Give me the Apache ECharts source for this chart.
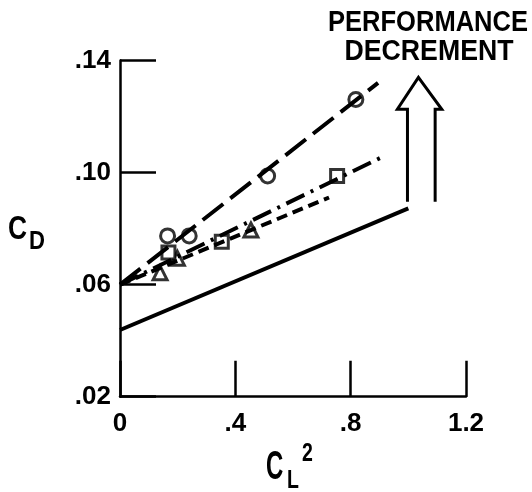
<!DOCTYPE html>
<html>
<head>
<meta charset="utf-8">
<script src="https://cdn.jsdelivr.net/npm/echarts@6/dist/echarts.min.js"></script>
<style>
  html, body { margin: 0; padding: 0; background: #fff; }
  #chart { width: 532px; height: 492px; }
</style>
</head>
<body>
<div id="chart"></div>
<script>
// tick labels
var xTicks = ['0', '.4', '.8', '1.2'];
var yTicks = ['.02', '.06', '.10', '.14'];

// circles + long dash fit
var circleX = [0.165, 0.240, 0.512, 0.818];
var circleY = [0.0774, 0.0774, 0.0988, 0.1261];
var circleFitX = [0, 0.895];
var circleFitY = [0.060, 0.132];

// squares + dash-dot fit
var squareX = [0.168, 0.353, 0.753];
var squareY = [0.0715, 0.0753, 0.0988];
var squareFitX = [0, 0.902];
var squareFitY = [0.060, 0.1052];

// triangles + short dash fit
var triX = [0.139, 0.199, 0.454];
var triY = [0.0642, 0.0694, 0.0795];
var triFitX = [0, 0.725];
var triFitY = [0.060, 0.0911];

// solid baseline
var baseX = [0, 1.0];
var baseY = [0.0438, 0.0872];

// hollow "performance decrement" arrow outline
var arrowX = [0.997, 0.997, 0.962, 1.035, 1.116, 1.093, 1.093];
var arrowY = [0.0896, 0.1226, 0.1226, 0.134, 0.1226, 0.1226, 0.0896];

function pairs(xs, ys) {
  return xs.map(function (x, i) { return [x, ys[i]]; });
}

var FONT = 'Liberation Sans';

// condensed-looking bold text (no narrow font installed, so squeeze it)
function label(txt, x, y, size, sx, align) {
  return {
    type: 'text', x: x, y: y, scaleX: sx, silent: true,
    style: {
      text: txt, fill: '#000', font: 'bold ' + size + 'px "' + FONT + '"',
      align: align || 'left', verticalAlign: 'top'
    }
  };
}

var chart = echarts.init(document.getElementById('chart'), null, { renderer: 'canvas' });

var markerStyle = { color: '#fff', borderColor: '#000', borderWidth: 3 };

chart.setOption({
  animation: false,
  backgroundColor: '#fff',
  grid: { left: 120, top: 60.5, width: 346, height: 336.2, outerBoundsMode: 'none' },
  xAxis: {
    type: 'value',
    min: 0, max: 1.2, interval: 0.4,
    splitLine: { show: false },
    axisLine: { lineStyle: { color: '#000', width: 2.5 } },
    axisTick: { inside: true, length: 36, lineStyle: { color: '#000', width: 2.5 } },
    axisLabel: {
      margin: 14, color: '#000', fontSize: 26, fontWeight: 'bold', fontFamily: FONT,
      formatter: function (v) { return xTicks[Math.round(v / 0.4)]; }
    }
  },
  yAxis: {
    type: 'value',
    min: 0.02, max: 0.14, interval: 0.04,
    splitLine: { show: false },
    axisLine: { lineStyle: { color: '#000', width: 2.5 } },
    axisTick: { inside: true, length: 36, lineStyle: { color: '#000', width: 2.5 } },
    axisLabel: {
      margin: 9, color: '#000', fontSize: 26, fontWeight: 'bold', fontFamily: FONT,
      formatter: function (v) { return yTicks[Math.round((v - 0.02) / 0.04)]; }
    }
  },
  graphic: [
    label('PERFORMANCE', 428, 8, 29, 0.88, 'center'),
    label('DECREMENT', 429, 37, 29, 0.92, 'center'),
    // C_D
    label('C', 8, 213, 33, 0.8),
    label('D', 29, 229, 26, 0.85),
    // C_L squared
    label('C', 266, 448, 40, 0.6),
    label('L', 287, 468, 26, 0.75),
    label('2', 302, 441, 26, 0.75)
  ],
  series: [
    {
      type: 'line', data: pairs(baseX, baseY), showSymbol: false, silent: true,
      lineStyle: { color: '#000', width: 4 }
    },
    {
      type: 'line', data: pairs(triFitX, triFitY), showSymbol: false, silent: true,
      lineStyle: { color: '#000', width: 4, type: [11, 6] }
    },
    {
      type: 'line', data: pairs(squareFitX, squareFitY), showSymbol: false, silent: true,
      lineStyle: { color: '#000', width: 4, type: [20, 7, 3, 7] }
    },
    {
      type: 'line', data: pairs(circleFitX, circleFitY), showSymbol: false, silent: true,
      lineStyle: { color: '#000', width: 4, type: [26, 9] }
    },
    {
      type: 'line', data: pairs(arrowX, arrowY), showSymbol: false, silent: true,
      lineStyle: { color: '#000', width: 3, join: 'miter' }
    },
    {
      type: 'scatter', data: pairs(triX, triY), symbol: 'triangle', symbolSize: 14,
      itemStyle: markerStyle
    },
    {
      type: 'scatter', data: pairs(squareX, squareY), symbol: 'rect', symbolSize: 13,
      itemStyle: markerStyle
    },
    {
      type: 'scatter', data: pairs(circleX, circleY), symbol: 'circle', symbolSize: 14,
      itemStyle: markerStyle
    }
  ]
});
</script>
</body>
</html>
